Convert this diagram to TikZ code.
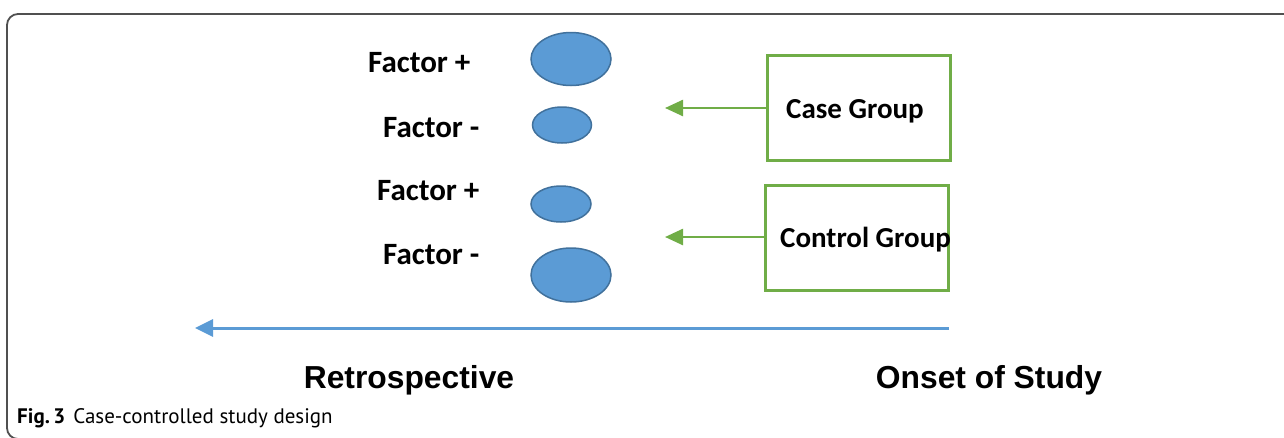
\documentclass[tikz,border=0pt]{standalone}
\usepackage{fontspec}
\newfontfamily\calib{Carlito}
\newfontfamily\arial{Liberation Sans}
\newfontfamily\capfont{PT Sans}
\usetikzlibrary{arrows.meta, shapes.geometric}
\definecolor{blobfill}{HTML}{5B9BD5}
\definecolor{blobline}{HTML}{41719C}
\definecolor{grp}{HTML}{70AD47}
\definecolor{frame}{HTML}{505050}
\tikzset{
    factor/.style={font=\calib\bfseries\fontsize{31}{34}\selectfont, inner sep=0pt, anchor=base west}, % Factor labels
    blob/.style={ellipse, fill=blobfill, draw=blobline, line width=1.5pt, inner sep=0pt}, % the ovals
    grpbox/.style={draw=grp, line width=2.2pt, minimum width=183, minimum height=105, inner sep=0pt}, % group boxes
    grptext/.style={font=\calib\bfseries\fontsize{29}{32}\selectfont, inner sep=0pt, anchor=base west},
    axis text/.style={font=\arial\bfseries\fontsize{31.8}{34}\selectfont, inner sep=0pt, anchor=base}
}

\begin{document}
\begin{tikzpicture}[x=1pt, y=-1pt]
    \useasboundingbox (0,0) rectangle (1284,437);
    \clip (0,0) rectangle (1284,437);

    % outer frame
    \draw[frame, line width=1.8pt, rounded corners=11] (1300,439) -- (7,439) -- (7,14) -- (1300,14);

    % factors and ovals
    \node[factor] (f1) at (368,72) {Factor +};
    \node[factor] (f2) at (383,137) {Factor -};
    \node[factor] (f3) at (377,200) {Factor +};
    \node[factor] (f4) at (383,264) {Factor -};
    \node[blob, minimum width=80, minimum height=53] (b1) at (571,59) {};
    \node[blob, minimum width=59, minimum height=36] (b2) at (562,125) {};
    \node[blob, minimum width=60, minimum height=36] (b3) at (561,204) {};
    \node[blob, minimum width=80, minimum height=54] (b4) at (571,275) {};

    % groups
    \node[grpbox] (case) at (859,108) {};
    \node[grpbox] (ctrl) at (857,238) {};
    \node[grptext] (casetxt) at (786,118) {Case Group};
    \node[grptext] (ctrltxt) at (780,247) {Control Group};
    \coordinate (casetip) at (665,108);
    \coordinate (ctrltip) at (665,237);
    \draw[grp, line width=2.5pt, -{Triangle[length=18pt, width=16pt]}] (case.west |- casetip) -- (casetip);
    \draw[grp, line width=2.5pt, -{Triangle[length=18pt, width=16pt]}] (ctrl.west |- ctrltip) -- (ctrltip);

    % time line
    \coordinate (onset) at (949,328);
    \coordinate (past) at (195,328);
    \draw[blobfill, line width=3pt, -{Triangle[length=18pt, width=17pt]}] (onset) -- (past);
    \node[axis text] (retro) at (409,388) {Retrospective};
    \node[axis text] (study) at (989,388) {Onset of Study};

    % caption
    \node[anchor=base west, font=\capfont\fontsize{21}{24}\selectfont, inner sep=0pt] (cap) at (17,423) {\textbf{Fig.\,3}\hspace{8pt}Case-controlled study design};
\end{tikzpicture}
\end{document}
